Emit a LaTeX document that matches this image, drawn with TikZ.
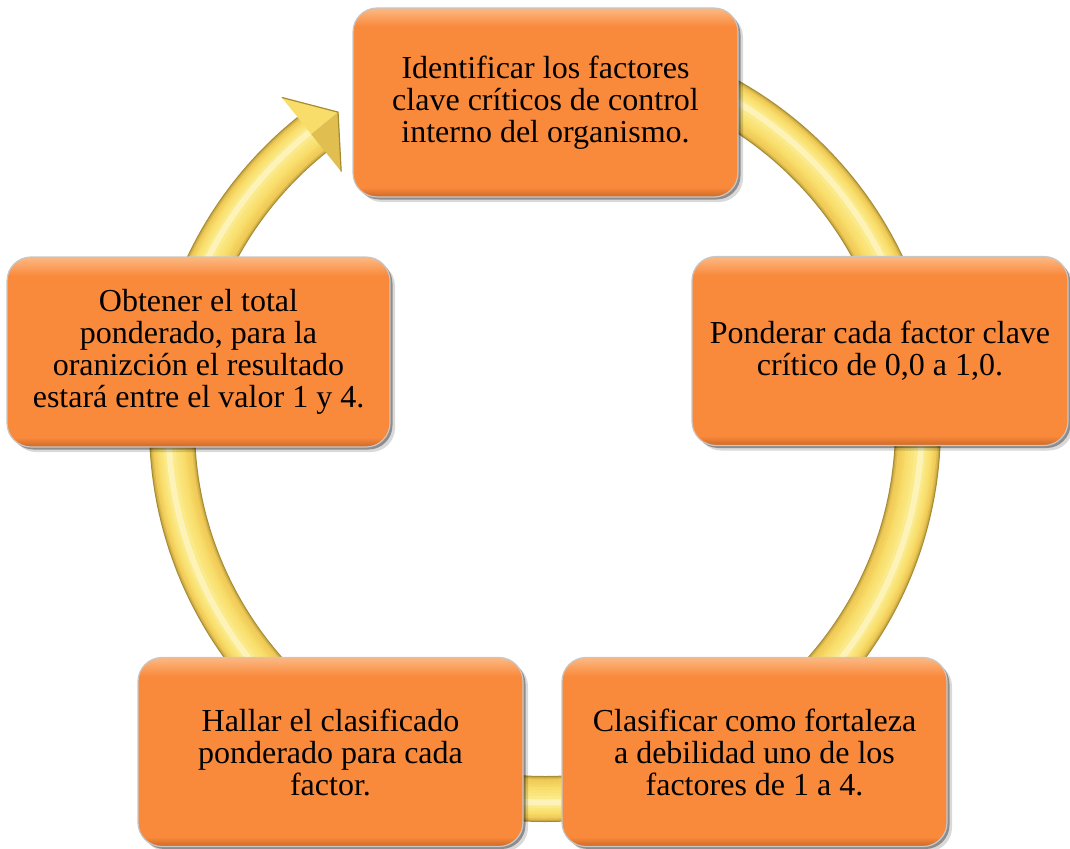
\documentclass[tikz,border=0pt]{standalone}
\usepackage{fontspec}
\setmainfont{Liberation Serif}
\usetikzlibrary{calc}
\definecolor{boxor}{RGB}{249,137,59}
\definecolor{boxlight}{RGB}{252,180,125}
\definecolor{boxdark}{RGB}{205,104,38}
\definecolor{ringdark}{RGB}{165,138,48}
\definecolor{ringmid}{RGB}{240,203,88}
\definecolor{ringlight}{RGB}{248,221,106}
\definecolor{ringhi}{RGB}{251,234,138}
\pgfdeclareverticalshading{boxshade}{100bp}{color(0bp)=(boxdark); color(25bp)=(boxdark); color(27.5bp)=(boxor); color(70bp)=(boxor); color(74.5bp)=(boxlight); color(75bp)=(boxlight); color(100bp)=(boxlight)}
\tikzset{
  box/.style={rounded corners=24pt, minimum width=385pt, minimum height=189pt,
    inner sep=0pt, align=center, text=black,
    font=\fontsize{32pt}{32pt}\selectfont,
    draw=black!22, line width=1.2pt, shading=boxshade,
    preaction={fill=black, opacity=0.15, transform canvas={shift={(5pt,-5pt)}}},
    preaction={fill=black, opacity=0.35, transform canvas={shift={(2.5pt,-2.5pt)}}}},
  ringlayer/.style={line width=#1}
}
\begin{document}
\begin{tikzpicture}[x=1pt,y=-1pt]
\useasboundingbox (0,0) rectangle (1070,848);
\coordinate (c) at (545,426);
% ring (3D tube look, smooth layered strokes)
\foreach \r/\w/\col in {373/46/ringdark, 373/44/ringdark!55!ringmid, 373/42/ringdark!25!ringmid,
    373/39/ringmid, 373.5/35/ringmid!70!ringlight, 374/31/ringmid!40!ringlight,
    374.5/27/ringlight, 375/22/ringlight!70!ringhi, 375.5/17/ringlight!40!ringhi,
    376/12/ringhi, 376.5/6/ringhi!60!white}{
  \draw[ringlayer=\w pt, \col] ($(c)+(-90:\r)$) arc[start angle=-90, end angle=231.3, radius=\r];
}
% arrow head
\coordinate (h1) at ($(c)+(231.3:421)$);
\coordinate (h2) at ($(c)+(231.3:326)$);
\coordinate (hm) at ($(c)+(231.3:374)$);
\coordinate (ht) at ($(c)+(236.6:376)$);
\fill[ringlight] (h1) -- (ht) -- (hm) -- cycle;
\fill[ringmid!80!ringdark] (hm) -- (ht) -- (h2) -- cycle;
\draw[ringdark, line width=1.2pt, line join=round] (h1) -- (ht) -- (h2);
% boxes
\node[box] (A) at (545.5,102.5) {Identificar los factores\\clave críticos de control\\interno del organismo.};
\node[box, minimum width=376pt] (B) at (880,351) {Ponderar cada factor clave\\crítico de 0,0 a 1,0.};
\node[box] (C) at (754.5,752) {Clasificar como fortaleza\\a debilidad uno de los\\factores de 1 a 4.};
\node[box] (D) at (330.5,752) {Hallar el clasificado\\ponderado para cada\\factor.};
\node[box, minimum width=383pt, minimum height=190pt] (E) at (198.5,352) {Obtener el total\\ponderado, para la\\oranizción el resultado\\estará entre el valor 1 y 4.};
\end{tikzpicture}
\end{document}
